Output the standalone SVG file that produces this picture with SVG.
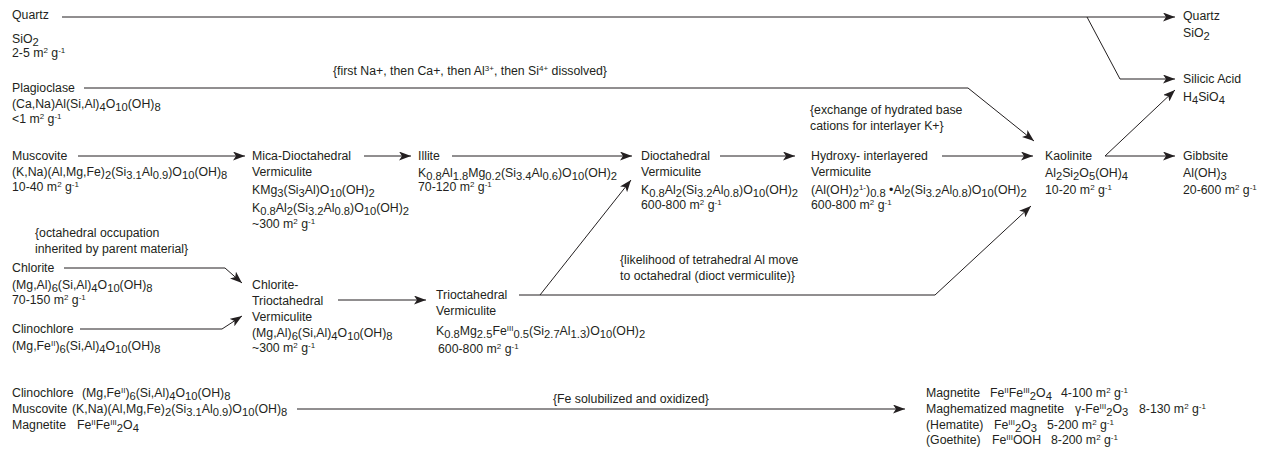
<svg xmlns="http://www.w3.org/2000/svg" width="1266" height="451" viewBox="0 0 1266 451">
<style>
text{font-family:"Liberation Sans",Arial,sans-serif;font-size:12.3px;fill:#231f20}
.s{font-size:11.2px;baseline-shift:-2.5px}
.p{font-size:8px;baseline-shift:4.5px}
.c{fill:none;stroke:#231f20;stroke-width:1;marker-end:url(#ah)}
</style>
<defs>
<marker id="ah" markerUnits="userSpaceOnUse" markerWidth="13" markerHeight="9" refX="12" refY="4.5" orient="auto">
<path d="M0,0 L12,4.5 L0,9 L3,4.5 Z" fill="#231f20"/>
</marker>
</defs>
<rect width="1266" height="451" fill="#ffffff"/>
<g id="connectors">
<path class="c" d="M62,17 H1175"/>
<path class="c" d="M1087,17 L1120,79 H1175"/>
<path class="c" d="M84,88 H968 L1034,141"/>
<path class="c" d="M78,156 H245"/>
<path class="c" d="M364,156 H411"/>
<path class="c" d="M452,156 H632"/>
<path class="c" d="M720,156 H795"/>
<path class="c" d="M942,156 H1033"/>
<path class="c" d="M1105,156 L1175,90"/>
<path class="c" d="M1105,156 H1175"/>
<path class="c" d="M64,268 H225 L242,283"/>
<path class="c" d="M80,329 H222 L242,316"/>
<path class="c" d="M338,300 H426"/>
<path class="c" d="M519,295 H935 L1031,206"/>
<path class="c" d="M540,295 L631,180"/>
<path class="c" d="M297,409 H905"/>
</g>
<g id="quartz">
<text x="12" y="19">Quartz</text>
<text x="12" y="43">SiO<tspan class="s">2</tspan></text>
<text x="12" y="57">2-5 m<tspan class="p">2</tspan> g<tspan class="p">-1</tspan></text>
</g>
<g id="plagioclase">
<text x="12" y="92">Plagioclase</text>
<text x="12" y="108">(Ca,Na)Al(Si,Al)<tspan class="s">4</tspan>O<tspan class="s">10</tspan>(OH)<tspan class="s">8</tspan></text>
<text x="12" y="123">&lt;1 m<tspan class="p">2</tspan> g<tspan class="p">-1</tspan></text>
</g>
<g id="note-dissolved">
<text x="333" y="75">{first Na+, then Ca+, then Al<tspan class="p">3+</tspan>, then Si<tspan class="p">4+</tspan> dissolved}</text>
</g>
<g id="muscovite">
<text x="12" y="160">Muscovite</text>
<text x="12" y="176">(K,Na)(Al,Mg,Fe)<tspan class="s">2</tspan>(Si<tspan class="s">3.1</tspan>Al<tspan class="s">0.9</tspan>)O<tspan class="s">10</tspan>(OH)<tspan class="s">8</tspan></text>
<text x="12" y="191">10-40 m<tspan class="p">2</tspan> g<tspan class="p">-1</tspan></text>
</g>
<g id="mica-dioctahedral-vermiculite">
<text x="252" y="160">Mica-Dioctahedral</text>
<text x="252" y="176">Vermiculite</text>
<text x="252" y="194">KMg<tspan class="s">3</tspan>(Si<tspan class="s">3</tspan>Al)O<tspan class="s">10</tspan>(OH)<tspan class="s">2</tspan></text>
<text x="252" y="212">K<tspan class="s">0.8</tspan>Al<tspan class="s">2</tspan>(Si<tspan class="s">3.2</tspan>Al<tspan class="s">0.8</tspan>)O<tspan class="s">10</tspan>(OH)<tspan class="s">2</tspan></text>
<text x="252" y="228">~300 m<tspan class="p">2</tspan> g<tspan class="p">-1</tspan></text>
</g>
<g id="illite">
<text x="418" y="160">Illite</text>
<text x="418" y="177">K<tspan class="s">0.8</tspan>Al<tspan class="s">1.8</tspan>Mg<tspan class="s">0.2</tspan>(Si<tspan class="s">3.4</tspan>Al<tspan class="s">0.6</tspan>)O<tspan class="s">10</tspan>(OH)<tspan class="s">2</tspan></text>
<text x="418" y="191">70-120 m<tspan class="p">2</tspan> g<tspan class="p">-1</tspan></text>
</g>
<g id="dioctahedral-vermiculite">
<text x="641" y="160">Dioctahedral</text>
<text x="641" y="176">Vermiculite</text>
<text x="641" y="194">K<tspan class="s">0.8</tspan>Al<tspan class="s">2</tspan>(Si<tspan class="s">3.2</tspan>Al<tspan class="s">0.8</tspan>)O<tspan class="s">10</tspan>(OH)<tspan class="s">2</tspan></text>
<text x="641" y="209">600-800 m<tspan class="p">2</tspan> g<tspan class="p">-1</tspan></text>
</g>
<g id="note-exchange">
<text x="810" y="114">{exchange of hydrated base</text>
<text x="810" y="130">cations for interlayer K+}</text>
</g>
<g id="hydroxy-interlayered-vermiculite">
<text x="811" y="160">Hydroxy- interlayered</text>
<text x="811" y="176">Vermiculite</text>
<text x="811" y="194">(Al(OH)<tspan class="s">2</tspan><tspan class="p">1-</tspan>)<tspan class="s">0.8</tspan> •Al<tspan class="s">2</tspan>(Si<tspan class="s">3.2</tspan>Al<tspan class="s">0.8</tspan>)O<tspan class="s">10</tspan>(OH)<tspan class="s">2</tspan></text>
<text x="811" y="209">600-800 m<tspan class="p">2</tspan> g<tspan class="p">-1</tspan></text>
</g>
<g id="kaolinite">
<text x="1045" y="160">Kaolinite</text>
<text x="1045" y="177">Al<tspan class="s">2</tspan>Si<tspan class="s">2</tspan>O<tspan class="s">5</tspan>(OH)<tspan class="s">4</tspan></text>
<text x="1045" y="194">10-20 m<tspan class="p">2</tspan> g<tspan class="p">-1</tspan></text>
</g>
<g id="quartz-out">
<text x="1183" y="20">Quartz</text>
<text x="1183" y="37">SiO<tspan class="s">2</tspan></text>
</g>
<g id="silicic-acid">
<text x="1183" y="83">Silicic Acid</text>
<text x="1183" y="101">H<tspan class="s">4</tspan>SiO<tspan class="s">4</tspan></text>
</g>
<g id="gibbsite">
<text x="1183" y="160">Gibbsite</text>
<text x="1183" y="177">Al(OH)<tspan class="s">3</tspan></text>
<text x="1183" y="194">20-600 m<tspan class="p">2</tspan> g<tspan class="p">-1</tspan></text>
</g>
<g id="note-octahedral">
<text x="35" y="237">{octahedral occupation</text>
<text x="35" y="253">inherited by parent material}</text>
</g>
<g id="chlorite">
<text x="12" y="272">Chlorite</text>
<text x="12" y="289">(Mg,Al)<tspan class="s">6</tspan>(Si,Al)<tspan class="s">4</tspan>O<tspan class="s">10</tspan>(OH)<tspan class="s">8</tspan></text>
<text x="12" y="304">70-150 m<tspan class="p">2</tspan> g<tspan class="p">-1</tspan></text>
</g>
<g id="clinochlore">
<text x="12" y="333">Clinochlore</text>
<text x="12" y="350">(Mg,Fe<tspan class="p">II</tspan>)<tspan class="s">6</tspan>(Si,Al)<tspan class="s">4</tspan>O<tspan class="s">10</tspan>(OH)<tspan class="s">8</tspan></text>
</g>
<g id="chlorite-trioctahedral-vermiculite">
<text x="252" y="289">Chlorite-</text>
<text x="252" y="305">Trioctahedral</text>
<text x="252" y="321">Vermiculite</text>
<text x="252" y="337">(Mg,Al)<tspan class="s">6</tspan>(Si,Al)<tspan class="s">4</tspan>O<tspan class="s">10</tspan>(OH)<tspan class="s">8</tspan></text>
<text x="252" y="352">~300 m<tspan class="p">2</tspan> g<tspan class="p">-1</tspan></text>
</g>
<g id="trioctahedral-vermiculite">
<text x="436" y="299">Trioctahedral</text>
<text x="436" y="315">Vermiculite</text>
<text x="436" y="335">K<tspan class="s">0.8</tspan>Mg<tspan class="s">2.5</tspan>Fe<tspan class="p">III</tspan><tspan class="s">0.5</tspan>(Si<tspan class="s">2.7</tspan>Al<tspan class="s">1.3</tspan>)O<tspan class="s">10</tspan>(OH)<tspan class="s">2</tspan></text>
<text x="438" y="353">600-800 m<tspan class="p">2</tspan> g<tspan class="p">-1</tspan></text>
</g>
<g id="note-likelihood">
<text x="620" y="264">{likelihood of tetrahedral Al move</text>
<text x="620" y="280">to octahedral (dioct vermiculite)}</text>
</g>
<g id="iron-sources">
<text x="12" y="397">Clinochlore<tspan x="82">(Mg,Fe<tspan class="p">II</tspan>)<tspan class="s">6</tspan>(Si,Al)<tspan class="s">4</tspan>O<tspan class="s">10</tspan>(OH)<tspan class="s">8</tspan></tspan></text>
<text x="12" y="413">Muscovite<tspan x="72">(K,Na)(Al,Mg,Fe)<tspan class="s">2</tspan>(Si<tspan class="s">3.1</tspan>Al<tspan class="s">0.9</tspan>)O<tspan class="s">10</tspan>(OH)<tspan class="s">8</tspan></tspan></text>
<text x="12" y="429">Magnetite<tspan x="77">Fe<tspan class="p">II</tspan>Fe<tspan class="p">III</tspan><tspan class="s">2</tspan>O<tspan class="s">4</tspan></tspan></text>
</g>
<g id="note-fe">
<text x="553" y="403">{Fe solubilized and oxidized}</text>
</g>
<g id="iron-oxides">
<text x="926" y="397">Magnetite<tspan x="990">Fe<tspan class="p">II</tspan>Fe<tspan class="p">III</tspan><tspan class="s">2</tspan>O<tspan class="s">4</tspan></tspan><tspan x="1061">4-100 m<tspan class="p">2</tspan> g<tspan class="p">-1</tspan></tspan></text>
<text x="926" y="413">Maghematized magnetite<tspan x="1075">γ-Fe<tspan class="p">III</tspan><tspan class="s">2</tspan>O<tspan class="s">3</tspan></tspan><tspan x="1139">8-130 m<tspan class="p">2</tspan> g<tspan class="p">-1</tspan></tspan></text>
<text x="926" y="429">(Hematite)<tspan x="994">Fe<tspan class="p">III</tspan><tspan class="s">2</tspan>O<tspan class="s">3</tspan></tspan><tspan x="1047">5-200 m<tspan class="p">2</tspan> g<tspan class="p">-1</tspan></tspan></text>
<text x="926" y="444">(Goethite)<tspan x="992">Fe<tspan class="p">III</tspan>OOH</tspan><tspan x="1051">8-200 m<tspan class="p">2</tspan> g<tspan class="p">-1</tspan></tspan></text>
</g>
</svg>
